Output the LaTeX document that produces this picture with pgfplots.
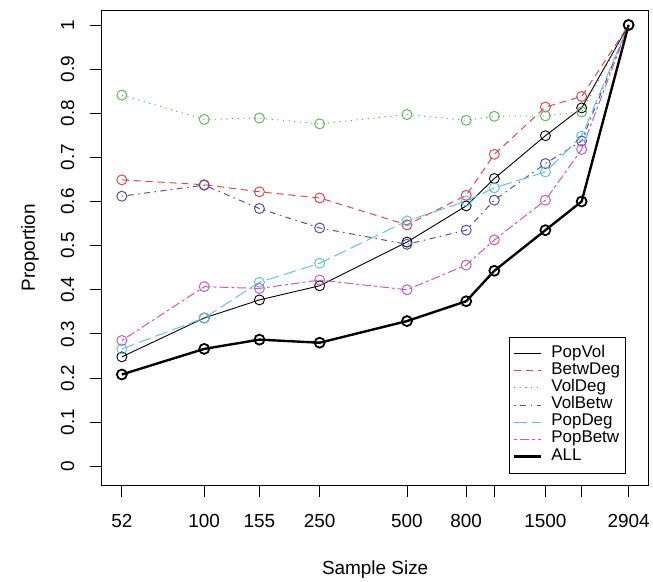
\documentclass[border=0pt]{standalone}
\usepackage{pgfplots}
\usepackage{pgfplotstable}
\usepackage{fontspec}
\setmainfont{Liberation Sans}
\pgfplotsset{compat=1.18}

\definecolor{cRed}{RGB}{226,72,78}
\definecolor{cGreen}{RGB}{95,185,95}
\definecolor{cBlue}{RGB}{80,80,165}
\definecolor{cCyan}{RGB}{95,195,225}
\definecolor{cMag}{RGB}{200,90,195}

% proportion by sample size
\pgfplotstableread{
n    PopVol BetwDeg VolDeg VolBetw PopDeg PopBetw ALL
52   0.248  0.649   0.841  0.612   0.266  0.285   0.208
100  0.336  0.638   0.786  0.637   0.336  0.407   0.266
155  0.377  0.622   0.789  0.584   0.417  0.403   0.287
250  0.409  0.608   0.776  0.540   0.460  0.422   0.280
500  0.508  0.547   0.797  0.503   0.556  0.400   0.329
800  0.590  0.614   0.784  0.535   0.601  0.456   0.374
1000 0.652  0.707   0.793  0.603   0.631  0.513   0.443
1500 0.749  0.814   0.794  0.686   0.667  0.603   0.535
2000 0.812  0.838   0.803  0.737   0.748  0.718   0.600
2904 1.000  1.000   1.000  1.000   1.000  1.000   1.000
}\datatable

\begin{document}
\begin{tikzpicture}
\begin{axis}[
    scale only axis,
    width=549pt,
    height=477pt,
    xmode=log,
    xmin=44.3, xmax=3405,
    ymin=-0.043, ymax=1.034,
    xtick={52,100,155,250,500,800,1000,1500,2000,2904},
    xticklabels={52,100,155,250,500,800,,1500,,2904},
    xminorticks=false,
    ytick={0,0.1,...,1},
    yticklabels={0,0.1,0.2,0.3,0.4,0.5,0.6,0.7,0.8,0.9,1},
    tick pos=left,
    tick align=outside,
    major tick length=12pt,
    tick style={black, line width=0.9pt},
    axis line style={line width=0.9pt},
    ticklabel style={font=\fontsize{19}{22}\selectfont},
    xticklabel style={yshift=-14pt},
    yticklabel style={rotate=90, anchor=south, yshift=12pt},
    xlabel={Sample Size},
    ylabel={Proportion},
    every axis x label/.style={at={(axis description cs:0.5,-0.178)}, anchor=center, font=\fontsize{19}{22}\selectfont},
    every axis y label/.style={at={(axis description cs:-0.131,0.5)}, rotate=90, anchor=center, font=\fontsize{19}{22}\selectfont},
    legend style={at={(0.958,0.025)}, anchor=south east, line width=0.8pt,
        font=\fontsize{17}{18}\selectfont, inner xsep=4pt, inner ysep=8pt,
        nodes={inner sep=1.2pt, text height=11pt, text depth=3.8pt},
        /tikz/every odd column/.style={column sep=8pt}},
    legend cell align=left,
    legend image code/.code={\draw[#1] (0pt,0pt) -- (27pt,0pt);},
    mark size=5pt,
]
\addplot[black, line width=0.9pt, mark=o, mark options={solid}] table[x=n, y=PopVol] {\datatable};
\addlegendentry{PopVol}
\addplot[cRed, line width=1pt, dash pattern=on 7pt off 5pt, mark=o, mark options={solid}] table[x=n, y=BetwDeg] {\datatable};
\addlegendentry{BetwDeg}
\addplot[cGreen, line width=1pt, dash pattern=on 1.2pt off 4.5pt, mark=o, mark options={solid}] table[x=n, y=VolDeg] {\datatable};
\addlegendentry{VolDeg}
\addplot[cBlue, line width=1pt, dash pattern=on 1.5pt off 4.5pt on 6pt off 4.5pt, mark=o, mark options={solid}] table[x=n, y=VolBetw] {\datatable};
\addlegendentry{VolBetw}
\addplot[cCyan, line width=1pt, dash pattern=on 13pt off 5pt, mark=o, mark options={solid}] table[x=n, y=PopDeg] {\datatable};
\addlegendentry{PopDeg}
\addplot[cMag, line width=1pt, dash pattern=on 3pt off 3pt on 9pt off 3pt, mark=o, mark options={solid}] table[x=n, y=PopBetw] {\datatable};
\addlegendentry{PopBetw}
\addplot[black, line width=2.4pt, mark=o, mark options={solid, line width=1.8pt}] table[x=n, y=ALL] {\datatable};
\addlegendentry{ALL}
\end{axis}
\path ([xshift=-102pt,yshift=-94pt]current axis.south west) rectangle ([xshift=2pt,yshift=10pt]current axis.north east);
\end{tikzpicture}
\end{document}
